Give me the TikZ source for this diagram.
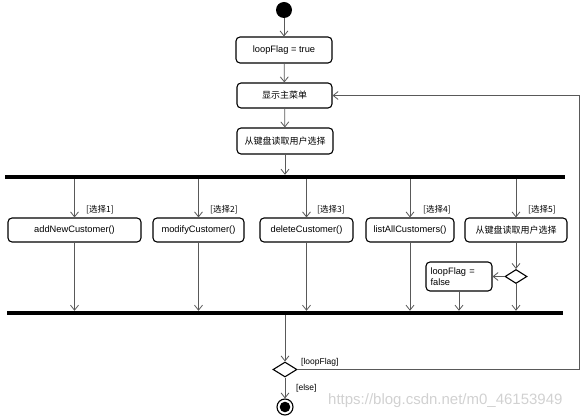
\documentclass[tikz,border=0pt]{standalone}
\usepackage{fontspec}
\setmainfont{Liberation Sans}
\newfontfamily\cjk{Noto Sans CJK SC}
\usetikzlibrary{arrows.meta,shapes.geometric}
\begin{document}
\begin{tikzpicture}[x=1pt,y=-1pt,
  act/.style={draw=black,line width=1.1pt,rounded corners=4pt,inner sep=0pt,font=\fontsize{9.3}{10.5}\selectfont,align=center},
  bar/.style={fill=black,inner sep=0pt,minimum height=4pt},
  dec/.style={draw=black,line width=1.1pt,diamond,inner sep=0pt},
  conn/.style={draw=black!65,line width=0.8pt,-{Straight Barb[length=5pt,width=8pt]}},
  lbl/.style={font=\fontsize{8.5}{9}\selectfont,inner sep=0pt,anchor=west},
  wm/.style={font=\fontsize{15}{16}\selectfont,text=black!18,inner sep=0pt,anchor=west}]
\useasboundingbox (0,0) rectangle (584,419);
% top column
\node[circle,fill=black,minimum size=16pt,inner sep=0pt] (start) at (284,10) {};
\node[act,minimum width=96pt,minimum height=26pt] (init) at (284,50) {loopFlag = true};
\node[act,minimum width=95pt,minimum height=25pt] (menu) at (284.5,95.5) {\cjk\fontsize{9}{10}\selectfont 显示主菜单};
\node[act,minimum width=96pt,minimum height=26pt] (read) at (285,141) {\cjk\fontsize{9}{10}\selectfont 从键盘读取用户选择};
\node[bar,minimum width=560pt] (fork) at (285,177) {};
% row of actions
\node[act,minimum width=133pt,minimum height=24pt] (b1) at (74.5,230) {addNewCustomer()};
\node[act,minimum width=91pt,minimum height=24pt] (b2) at (198.5,230) {modifyCustomer()};
\node[act,minimum width=93pt,minimum height=24pt] (b3) at (306.5,230) {deleteCustomer()};
\node[act,minimum width=88pt,minimum height=24pt] (b4) at (410,230) {listAllCustomers()};
\node[act,minimum width=102pt,minimum height=24pt] (b5) at (516,230) {\cjk\fontsize{9}{10}\selectfont 从键盘读取用户选择};
\node[dec,minimum width=22pt,minimum height=14pt] (d1) at (516,276.5) {};
\node[act,minimum width=66pt,minimum height=29pt,align=left,text width=57pt] (lf) at (459,276.5) {loopFlag =\\false};
\node[bar,minimum width=556pt] (join) at (285,313) {};
\node[dec,minimum width=24pt,minimum height=15pt] (d2) at (285,369.5) {};
\node[circle,draw=black,line width=1.1pt,minimum size=16pt,inner sep=0pt] (end) at (285,407) {};
\fill[black] (end.center) circle (5.3pt);
\coordinate (rc) at (579,369.5);
% guard labels
\node[lbl] (g1) at (86,210) {\cjk [选择1]};
\node[lbl] (g2) at (210,210) {\cjk [选择2]};
\node[lbl] (g3) at (317,210) {\cjk [选择3]};
\node[lbl] (g4) at (423,210) {\cjk [选择4]};
\node[lbl] (g5) at (528,210) {\cjk [选择5]};
\node[lbl] (gl) at (301,362) {[loopFlag]};
\node[lbl] (ge) at (296,388) {[else]};
% connectors
\draw[conn] (start) -- (init);
\draw[conn] (init) -- (menu);
\draw[conn] (menu) -- (read);
\draw[conn] (read.south) -- (read.south |- fork.north);
\foreach \b in {b1,b2,b3,b4,b5}{
  \draw[conn] (fork.south -| \b.north) -- (\b.north);
}
\foreach \b in {b1,b2,b3,b4}{
  \draw[conn] (\b.south) -- (\b.south |- join.north);
}
\draw[conn] (b5.south) -- (d1.north);
\draw[conn] (d1.west) -- (lf.east);
\draw[conn] (d1.south) -- (d1.south |- join.north);
\draw[conn] (lf.south) -- (lf.south |- join.north);
\draw[conn] (join.south -| d2.north) -- (d2.north);
\draw[conn] (d2.east) -- (rc) |- (menu.east);
\draw[conn] (d2.south) -- (end.north);
% watermark
\node[wm] (wmark) at (328,401) {https://blog.csdn.net/m0\_46153949};
\end{tikzpicture}
\end{document}
